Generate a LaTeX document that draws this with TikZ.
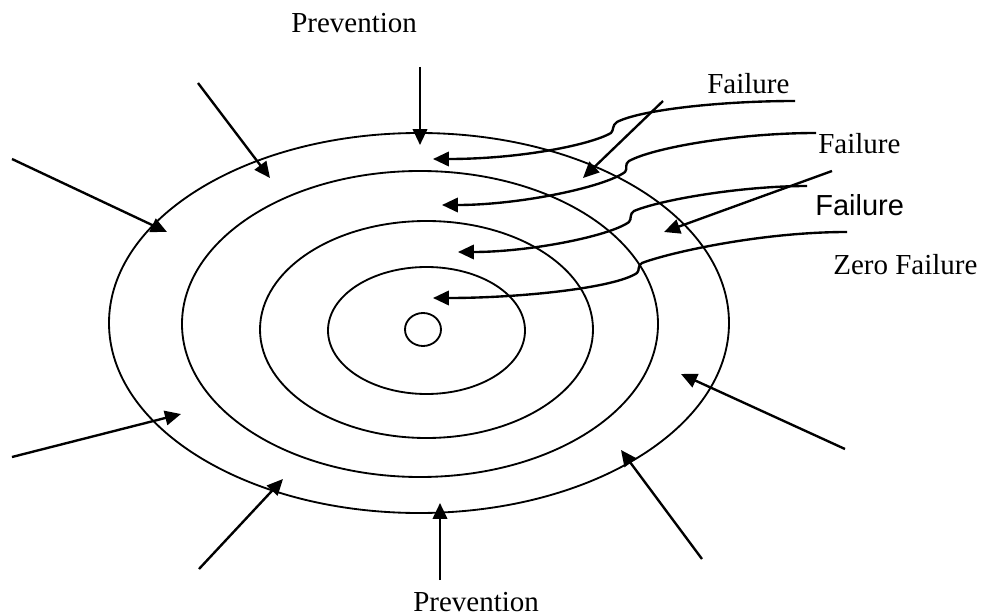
\documentclass[tikz,border=0pt]{standalone}
\usepackage{fontspec}
\setmainfont{Liberation Serif}
\newfontfamily\arialfont{Liberation Sans}
\usetikzlibrary{arrows.meta}
\begin{document}
\begin{tikzpicture}[x=0.02cm,y=-0.02cm,
  ring/.style={line width=1.05pt},
  arr/.style={line width=1.35pt,-{Triangle[length=0.32cm,width=0.29cm]}},
  lbl/.style={anchor=base west,inner sep=0pt,font=\fontsize{16.5}{19}\selectfont}]
\useasboundingbox (0,0) rectangle (985,615);
% rings
\draw[ring] (419,323) ellipse [x radius=310, y radius=190];
\draw[ring] (420,324) ellipse [x radius=238, y radius=153];
\draw[ring] (426.5,329.5) ellipse [x radius=166.5, y radius=108.5];
\draw[ring] (426.5,330.5) ellipse [x radius=98.5, y radius=63.5];
\draw[ring] (423,329.5) ellipse [x radius=18, y radius=16.5];
% labels
\node[lbl] (ptop) at (291,33) {Prevention};
\node[lbl] (pbot) at (413,611) {Prevention};
\node[lbl] (fl1) at (707,94) {Failure};
\node[lbl] (fl2) at (818,154) {Failure};
\node[lbl,font=\arialfont\fontsize{16.5}{19}\selectfont] (fl3) at (815,215) {Failure};
\node[lbl] (zf) at (833,275) {Zero Failure};
% prevention arrows
\coordinate (p1s) at (420,67);  \coordinate (p1t) at (420,145);
\coordinate (p2s) at (198,83);  \coordinate (p2t) at (270,178);
\coordinate (p3s) at (12,159);  \coordinate (p3t) at (167,232);
\coordinate (p4s) at (12,457);  \coordinate (p4t) at (181,414);
\coordinate (p5s) at (199,569); \coordinate (p5t) at (283,479);
\coordinate (p6s) at (440,580); \coordinate (p6t) at (440,503);
\coordinate (p7s) at (702,559); \coordinate (p7t) at (621,450);
\coordinate (p8s) at (845,449); \coordinate (p8t) at (681,374);
\foreach \i in {1,...,8} {\draw[arr] (p\i s) -- (p\i t);}
% failure straight arrows
\coordinate (f1s) at (663,101); \coordinate (f1t) at (583,178);
\coordinate (f2s) at (832,171); \coordinate (f2t) at (664,232);
\draw[arr] (f1s) -- (f1t);
\draw[arr] (f2s) -- (f2t);
% failure curves
\coordinate (c1e) at (795,101); \coordinate (c1t) at (433,159);
\coordinate (c2e) at (816,133); \coordinate (c2t) at (442,205);
\coordinate (c3e) at (807,186); \coordinate (c3t) at (458,252);
\coordinate (c4e) at (847,232); \coordinate (c4t) at (433,298);
\draw[arr] (c1e) .. controls (720,101) and (640,110) .. (617,122)
  .. controls (612,125) and (614,130) .. (611,133)
  .. controls (590,145) and (520,159) .. (c1t);
\draw[arr] (c2e) .. controls (740,133) and (655,147) .. (629,161)
  .. controls (624,164) and (628,169) .. (625,172)
  .. controls (605,187) and (520,205) .. (c2t);
\draw[arr] (c3e) .. controls (740,186) and (660,200) .. (634,211)
  .. controls (629,214) and (632,219) .. (629,222)
  .. controls (610,236) and (530,252) .. (c3t);
\draw[arr] (c4e) .. controls (760,232) and (668,253) .. (642,263)
  .. controls (637,266) and (640,270) .. (637,273)
  .. controls (615,288) and (520,298) .. (c4t);
\end{tikzpicture}
\end{document}
